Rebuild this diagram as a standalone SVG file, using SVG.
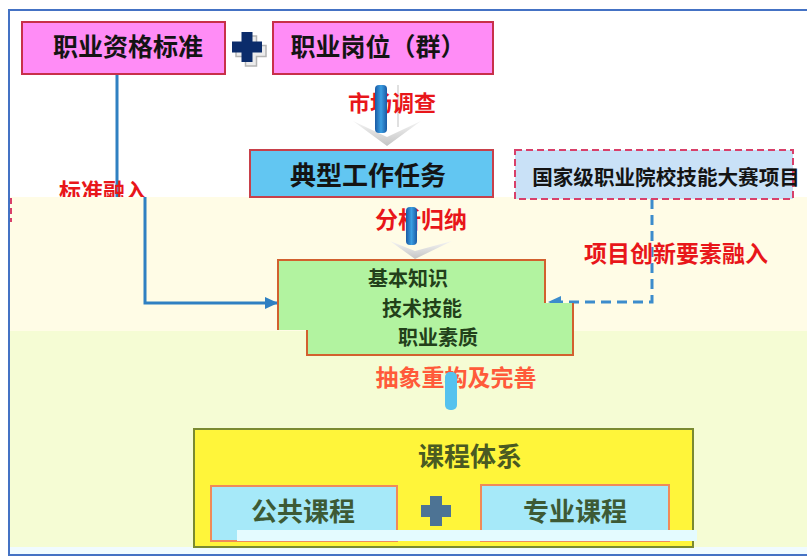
<svg xmlns="http://www.w3.org/2000/svg" width="807" height="556" viewBox="0 0 807 556">
<defs>
<style>
.t{font-family:"Noto Sans CJK SC","Noto Sans",sans-serif;font-weight:bold;text-anchor:middle}
.blk{fill:#141414}
.red{fill:#e8161a}
.pink{fill:#ff8cf6;stroke:#c8304a;stroke-width:2}
.grn{fill:#b2f3a0}
.gst{fill:none;stroke:#d2602e;stroke-width:2}
.gtx{fill:#22401a}
.cyan{fill:#a6e9f9;stroke:#f08a5a;stroke-width:2}
.ctx{fill:#3d5a35}
.chev{fill:url(#chev)}
.bar{fill:url(#bar)}
.conn{fill:none;stroke:#2f80c2;stroke-width:3}
</style>
<linearGradient id="bar" x1="0" x2="1" y1="0" y2="0">
<stop offset="0" stop-color="#1a5aa4"/><stop offset="0.5" stop-color="#3a9ee2"/><stop offset="1" stop-color="#1a5aa4"/>
</linearGradient>
<linearGradient id="chev" x1="0" x2="0" y1="0" y2="1">
<stop offset="0" stop-color="#f4f4f4"/><stop offset="1" stop-color="#c4c4c4"/>
</linearGradient>
<marker id="ah" markerUnits="userSpaceOnUse" markerWidth="14" markerHeight="14" refX="12" refY="7" orient="auto">
<path d="M0,1 L13,7 L0,13 Z" fill="#2f80c2"/>
</marker>
<marker id="ahd" markerUnits="userSpaceOnUse" markerWidth="14" markerHeight="14" refX="12" refY="7" orient="auto">
<path d="M0,1 L13,7 L0,13 Z" fill="#3c8ccc"/>
</marker>
<clipPath id="clipTop"><rect x="0" y="0" width="807" height="197"/></clipPath>
</defs>

<g id="background">
<rect width="807" height="556" fill="#ffffff"/>
<rect x="10" y="197" width="797" height="134" fill="#fffce6"/>
<rect x="10" y="331" width="797" height="216" fill="#f5fcd4"/>
<rect x="10" y="547" width="797" height="7" fill="#f0fbff"/>
<path d="M807,10 H9 V555 H807" fill="none" stroke="#4472c4" stroke-width="2"/>
<line x1="11" y1="198" x2="11" y2="222" stroke="#d8406a" stroke-width="2" stroke-dasharray="6,4"/>
</g>

<g id="connectors">
<path class="conn" d="M117,74 V197 M145,197 V303 H277" marker-end="url(#ah)"/>
<path d="M652,199 V302 H549" fill="none" stroke="#3c8ccc" stroke-width="3" stroke-dasharray="10,6" marker-end="url(#ahd)"/>
<text class="t red" x="103" y="199" font-size="22" clip-path="url(#clipTop)">标准融入</text>
<text class="t red" x="676" y="262" font-size="23">项目创新要素融入</text>
</g>

<g id="node-zgbz">
<rect class="pink" x="22" y="22" width="203" height="52"/>
<text class="t blk" x="128" y="56" font-size="25">职业资格标准</text>
</g>

<g id="plus-top">
<path d="M245.5,36 H256.5 V45.5 H266 V56.5 H256.5 V66 H245.5 V56.5 H236 V45.5 H245.5 Z" fill="#ececec" stroke="#b4b4b4" stroke-width="1.5"/>
<path d="M241.5,32 H252.5 V41.5 H262 V52.5 H252.5 V62 H241.5 V52.5 H232 V41.5 H241.5 Z" fill="#0b2c6b"/>
</g>

<g id="node-gwq">
<rect class="pink" x="273" y="22" width="220" height="52"/>
<text class="t blk" x="378" y="56" font-size="25">职业岗位（群）</text>
</g>

<g id="arrow-scdc">
<polygon class="chev" points="353,121 387,137 421,121 387,146"/>
<line x1="398" y1="85" x2="398" y2="127" stroke="#d6d6d6" stroke-width="1.5"/>
<text class="t red" x="392" y="111" font-size="22">市场调查</text>
<rect class="bar" x="375" y="85" width="12" height="48" rx="4"/>
</g>

<g id="node-dxgzrw">
<rect x="250" y="150" width="243" height="47" fill="#62c6f2" stroke="#c8404a" stroke-width="2"/>
<text class="t blk" x="368" y="185" font-size="26">典型工作任务</text>
</g>

<g id="node-dasai">
<rect x="515" y="150" width="278" height="49" fill="#c9e1f7" stroke="#d8406a" stroke-width="2" stroke-dasharray="7,4"/>
<text class="t blk" x="666" y="185" font-size="20.6">国家级职业院校技能大赛项目</text>
</g>

<g id="arrow-fxgn">
<polygon class="chev" points="390,241 415,251 452,241 415,259"/>
<text class="t red" x="421" y="228" font-size="23">分析归纳</text>
<rect class="bar" x="406" y="207" width="11" height="38" rx="4"/>
</g>

<g id="node-zhishi">
<rect class="grn" x="278" y="260" width="267" height="70"/>
<path class="gst" d="M278,330 V260 H545 V303"/>
<rect class="grn" x="307" y="303" width="266" height="52"/>
<path class="gst" d="M307,330 V355 H573 V303"/>
<text class="t gtx" x="408" y="286" font-size="20">基本知识</text>
<text class="t gtx" x="422" y="315.5" font-size="20">技术技能</text>
<text class="t gtx" x="438" y="345" font-size="20">职业素质</text>
</g>

<g id="arrow-cxcg">
<text class="t" x="456" y="386" font-size="23" fill="#ff5a3a">抽象重构及完善</text>
<rect x="445" y="372" width="12" height="38" rx="5" fill="#55c2ee"/>
</g>

<g id="node-kctx">
<rect x="194" y="429" width="499" height="118" fill="#fff53a" stroke="#7a8a30" stroke-width="2"/>
<text class="t" x="470" y="466" font-size="26" fill="#4a5a22">课程体系</text>
</g>

<g id="node-ggkc">
<rect class="cyan" x="211" y="486" width="186" height="55"/>
<text class="t ctx" x="303" y="521" font-size="26">公共课程</text>
</g>

<g id="plus-bottom">
<path d="M430,496 H442 V505 H451 V517 H442 V526 H430 V517 H421 V505 H430 Z" fill="#4d7394"/>
</g>

<g id="node-zykc">
<rect class="cyan" x="481" y="485" width="188" height="56"/>
<text class="t ctx" x="575" y="521" font-size="26">专业课程</text>
</g>

<g id="glitch-band">
<rect x="237" y="530" width="460" height="11" fill="#e4fbff"/>
</g>
</svg>
